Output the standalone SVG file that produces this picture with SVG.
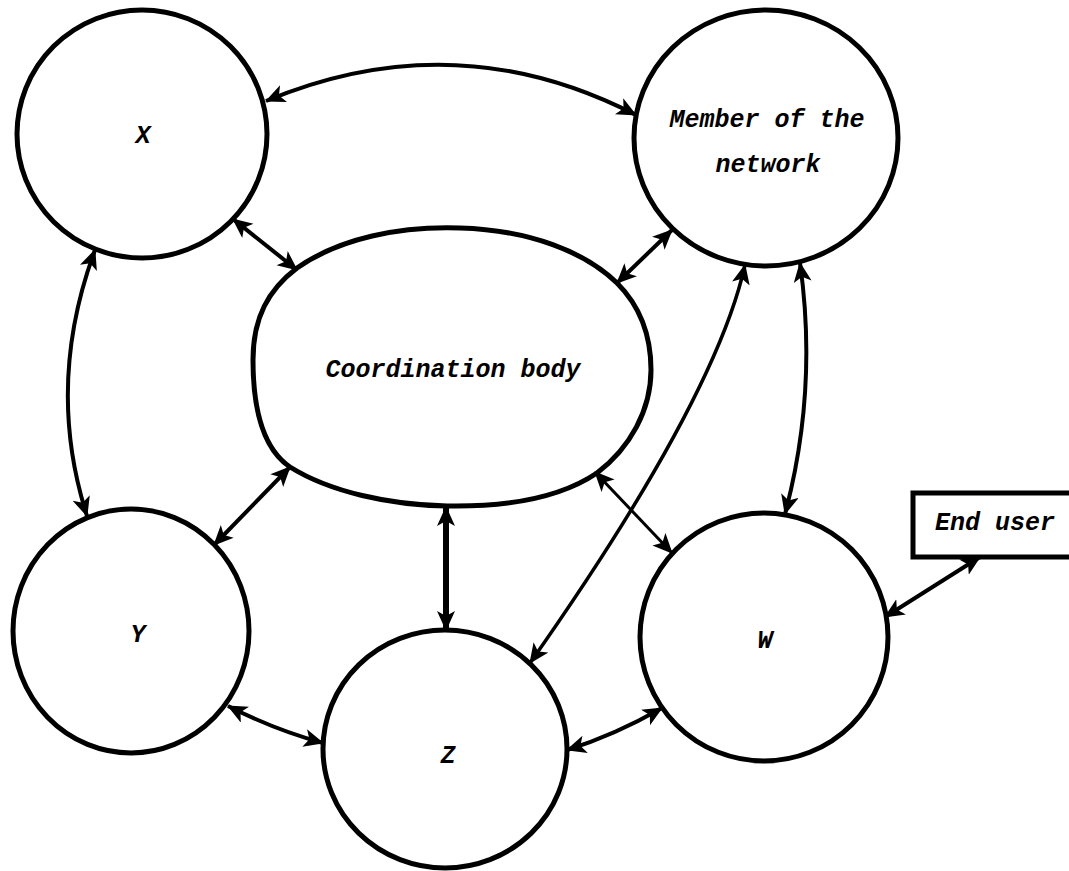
<svg xmlns="http://www.w3.org/2000/svg" width="1069" height="871" viewBox="0 0 1069 871">
<style>
.node{fill:#fff;stroke:#000;stroke-width:5}
.lbl{font-family:"Liberation Mono","DejaVu Sans Mono",monospace;font-style:italic;font-weight:bold;font-size:25px;fill:#000;text-anchor:middle}
.con{fill:none;stroke:#000;stroke-width:4;marker-start:url(#ah);marker-end:url(#ah)}
</style>
<defs>
<marker id="ah" markerUnits="userSpaceOnUse" markerWidth="22" markerHeight="20" refX="19" refY="9" orient="auto-start-reverse">
<path d="M0,0 L20,9 L0,18 L5,9 z" fill="#000"/>
</marker>
</defs>
<rect width="1069" height="871" fill="#fff"/>
<g id="node-x">
<ellipse class="node" cx="142" cy="134" rx="125" ry="124"/>
<text class="lbl" x="143" y="143">X</text>
</g>
<g id="node-member">
<ellipse class="node" cx="766" cy="138" rx="132" ry="128"/>
<text class="lbl" x="767" y="127">Member of the</text>
<text class="lbl" x="768" y="172">network</text>
</g>
<g id="node-coordination">
<path class="node" d="M253,360 C253,318 268,290 297,268 C340,238 400,226 460,228 C530,230 585,252 617,283 C640,306 651,335 651,370 C651,410 630,448 597,473 C560,498 505,507 447,506 C390,505 330,492 290,467 C262,448 253,405 253,360 Z"/>
<text class="lbl" x="453" y="377">Coordination body</text>
</g>
<g id="node-y">
<ellipse class="node" cx="131" cy="631" rx="118" ry="122"/>
<text class="lbl" x="138" y="642">Y</text>
</g>
<g id="node-z">
<ellipse class="node" cx="445" cy="749" rx="122" ry="119"/>
<text class="lbl" x="448" y="763">Z</text>
</g>
<g id="node-w">
<ellipse class="node" cx="764" cy="637" rx="124" ry="124"/>
<text class="lbl" x="765" y="648">W</text>
</g>
<g id="node-enduser">
<rect class="node" x="913" y="493" width="170" height="64"/>
<text class="lbl" x="935" y="530" style="text-anchor:start">End user</text>
</g>
<g id="connectors">
<path class="con" d="M266,101 Q455,22 636,115"/>
<path class="con" d="M233,219 L297,270"/>
<path class="con" d="M672,230 L617,283"/>
<path class="con" d="M95,250 Q45,385 87,516"/>
<path class="con" d="M800,263 Q818,390 785,514"/>
<path class="con" d="M745,265 Q715,400 530,663" style="stroke-width:3.5"/>
<path class="con" d="M290,467 L214,545"/>
<path class="con" d="M446,507 L446,630" style="stroke-width:6"/>
<path class="con" d="M595,472 L672,553" style="stroke-width:3"/>
<path class="con" d="M228,706 Q275,730 323,743"/>
<path class="con" d="M567,750 Q615,735 662,708"/>
<path class="con" d="M885,617 L980,557"/>
</g>
</svg>
